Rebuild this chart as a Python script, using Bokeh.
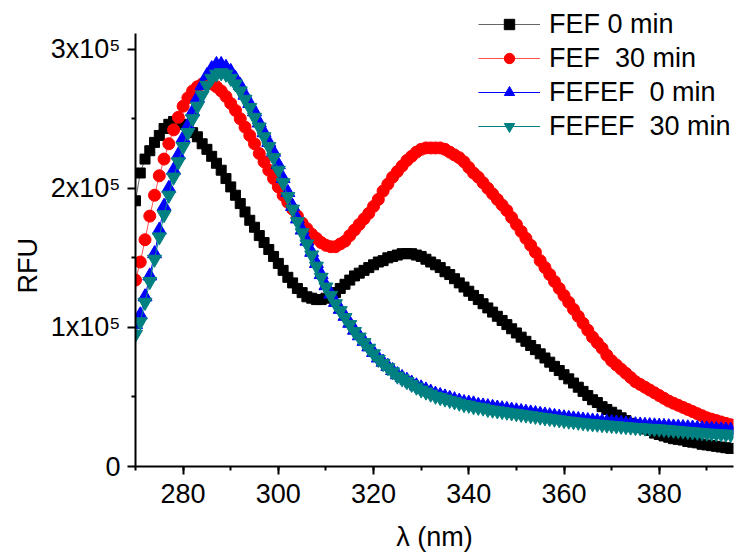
from bokeh.plotting import figure
from bokeh.models import (ColumnDataSource, Range1d, FixedTicker, Legend, LegendItem, Title)
from bokeh.embed import file_html
from bokeh.resources import INLINE

# wavelength, nm (1 nm steps)
wavelength = list(range(270, 396))

# RFU values in units of 1e5
fef_0 = [
    1.91, 2.11, 2.21, 2.27, 2.33, 2.38, 2.43, 2.46, 2.48, 2.48,
    2.46, 2.43, 2.40, 2.37, 2.32, 2.28, 2.23, 2.18, 2.13, 2.07,
    2.01, 1.95, 1.89, 1.83, 1.77, 1.72, 1.66, 1.61, 1.56, 1.51,
    1.46, 1.41, 1.36, 1.32, 1.28, 1.25, 1.22, 1.21, 1.20, 1.20,
    1.21, 1.23, 1.25, 1.28, 1.31, 1.34, 1.37, 1.39, 1.41, 1.43,
    1.45, 1.47, 1.48, 1.50, 1.51, 1.52, 1.53, 1.53, 1.53, 1.52,
    1.51, 1.49, 1.47, 1.45, 1.43, 1.40, 1.38, 1.35, 1.32, 1.29,
    1.26, 1.23, 1.20, 1.17, 1.14, 1.11, 1.08, 1.05, 1.02, 0.99,
    0.96, 0.93, 0.90, 0.87, 0.84, 0.81, 0.78, 0.75, 0.72, 0.69,
    0.66, 0.63, 0.60, 0.57, 0.54, 0.51, 0.48, 0.46, 0.43, 0.41,
    0.39, 0.37, 0.35, 0.33, 0.31, 0.30, 0.28, 0.27, 0.26, 0.24,
    0.23, 0.22, 0.21, 0.20, 0.195, 0.19, 0.18, 0.175, 0.17, 0.16,
    0.155, 0.15, 0.145, 0.14, 0.135, 0.13,
]

fef_30 = [
    1.34, 1.47, 1.63, 1.80, 1.95, 2.09, 2.21, 2.32, 2.42, 2.51,
    2.59, 2.65, 2.70, 2.73, 2.75, 2.76, 2.75, 2.73, 2.70, 2.66,
    2.61, 2.56, 2.50, 2.44, 2.38, 2.32, 2.25, 2.19, 2.13, 2.07,
    2.01, 1.95, 1.90, 1.85, 1.80, 1.75, 1.71, 1.67, 1.64, 1.61,
    1.59, 1.58, 1.58, 1.60, 1.62, 1.66, 1.70, 1.74, 1.78, 1.82,
    1.87, 1.92, 1.98, 2.03, 2.08, 2.12, 2.16, 2.20, 2.23, 2.26,
    2.28, 2.29, 2.29, 2.29, 2.29, 2.28, 2.26, 2.24, 2.22, 2.19,
    2.15, 2.11, 2.08, 2.04, 2.00, 1.96, 1.92, 1.88, 1.84, 1.79,
    1.74, 1.69, 1.64, 1.59, 1.54, 1.48, 1.43, 1.38, 1.33, 1.28,
    1.23, 1.18, 1.13, 1.08, 1.03, 0.98, 0.93, 0.89, 0.85, 0.80,
    0.76, 0.73, 0.70, 0.67, 0.64, 0.61, 0.59, 0.57, 0.55, 0.53,
    0.51, 0.49, 0.47, 0.455, 0.44, 0.425, 0.41, 0.395, 0.38, 0.365,
    0.35, 0.34, 0.33, 0.32, 0.31, 0.30,
]

fefef_0 = [
    1.02, 1.09, 1.22, 1.37, 1.53, 1.70, 1.87, 2.00, 2.13, 2.24,
    2.36, 2.45, 2.55, 2.65, 2.74, 2.81, 2.86, 2.89, 2.89, 2.87,
    2.84, 2.79, 2.74, 2.67, 2.61, 2.55, 2.47, 2.40, 2.33, 2.26,
    2.17, 2.07, 1.97, 1.87, 1.78, 1.70, 1.62, 1.54, 1.46, 1.38,
    1.30, 1.24, 1.18, 1.13, 1.08, 1.03, 0.98, 0.94, 0.90, 0.86,
    0.82, 0.78, 0.75, 0.72, 0.69, 0.66, 0.64, 0.62, 0.60, 0.58,
    0.565, 0.55, 0.535, 0.52, 0.51, 0.50, 0.49, 0.48, 0.47, 0.46,
    0.455, 0.45, 0.44, 0.435, 0.43, 0.425, 0.42, 0.415, 0.41, 0.405,
    0.40, 0.395, 0.39, 0.385, 0.38, 0.375, 0.37, 0.365, 0.36, 0.355,
    0.35, 0.346, 0.342, 0.338, 0.334, 0.33, 0.327, 0.324, 0.321, 0.318,
    0.315, 0.312, 0.309, 0.306, 0.303, 0.30, 0.298, 0.296, 0.294, 0.292,
    0.29, 0.288, 0.286, 0.284, 0.282, 0.28, 0.278, 0.276, 0.274, 0.272,
    0.27, 0.268, 0.266, 0.264, 0.262, 0.26,
]

fefef_30 = [
    0.95, 1.04, 1.18, 1.33, 1.49, 1.65, 1.81, 1.95, 2.08, 2.19,
    2.30, 2.40, 2.50, 2.59, 2.67, 2.74, 2.79, 2.82, 2.83, 2.82,
    2.79, 2.75, 2.70, 2.64, 2.58, 2.51, 2.44, 2.37, 2.30, 2.22,
    2.13, 2.04, 1.94, 1.85, 1.76, 1.68, 1.60, 1.52, 1.44, 1.36,
    1.29, 1.23, 1.17, 1.12, 1.07, 1.02, 0.97, 0.93, 0.89, 0.85,
    0.81, 0.77, 0.74, 0.71, 0.68, 0.65, 0.63, 0.61, 0.59, 0.57,
    0.55, 0.535, 0.52, 0.505, 0.495, 0.485, 0.475, 0.465, 0.455, 0.445,
    0.44, 0.43, 0.425, 0.42, 0.41, 0.405, 0.40, 0.395, 0.39, 0.385,
    0.38, 0.375, 0.37, 0.365, 0.36, 0.355, 0.35, 0.345, 0.34, 0.335,
    0.33, 0.326, 0.322, 0.318, 0.314, 0.31, 0.307, 0.304, 0.301, 0.298,
    0.295, 0.292, 0.289, 0.286, 0.283, 0.28, 0.278, 0.276, 0.274, 0.272,
    0.27, 0.267, 0.264, 0.261, 0.258, 0.255, 0.252, 0.249, 0.246, 0.243,
    0.24, 0.238, 0.236, 0.234, 0.232, 0.23,
]

labels = ["FEF 0 min", "FEF  30 min", "FEFEF  0 min", "FEFEF  30 min"]
y_ticks = [0, 100000, 200000, 300000]
y_tick_labels = ["0", "1x10\u2075", "2x10\u2075", "3x10\u2075"]
x_ticks = [280, 300, 320, 340, 360, 380]

FONT = "Liberation Sans"
FS = "27px"

p = figure(width=736, height=554, output_backend="svg", toolbar_location=None,
           x_range=Range1d(270, 395.6), y_range=Range1d(0, 335000),
           min_border_left=135, min_border_right=3, min_border_top=0,
           min_border_bottom=85)
p.outline_line_color = None
p.xgrid.visible = False
p.ygrid.visible = False

series = [
    (fef_0, "#000000", "#666666", "square", 10),
    (fef_30, "#ff0000", "#ff5050", "circle", 12),
    (fefef_0, "#0000ff", "#0000ff", "triangle", 14),
    (fefef_30, "#008080", "#008080", "inverted_triangle", 14),
]

items = []
for (vals, col, lcol, mk, sz), lab in zip(series, labels):
    src = ColumnDataSource(dict(x=wavelength, y=[v * 1e5 for v in vals]))
    lr = p.line("x", "y", source=src, line_color=lcol, line_width=1)
    sr = p.scatter("x", "y", source=src, marker=mk, size=sz,
                   fill_color=col, line_color=col)
    items.append(LegendItem(label=lab, renderers=[lr, sr]))

legend = Legend(items=items, location=(343, 323), orientation="vertical",
                glyph_width=62, glyph_height=26, label_height=34,
                label_standoff=9, spacing=0, padding=0, margin=0,
                label_text_font=FONT, label_text_font_size=FS,
                label_text_color="#000000",
                background_fill_alpha=0, border_line_alpha=0)
p.add_layout(legend, "center")

for ax in (p.xaxis[0], p.yaxis[0]):
    ax.axis_line_width = 2
    ax.axis_line_color = "#000000"
    ax.major_tick_line_width = 2
    ax.minor_tick_line_width = 2
    ax.major_tick_line_color = "#000000"
    ax.minor_tick_line_color = "#000000"
    ax.major_tick_in = 0
    ax.major_tick_out = 8
    ax.minor_tick_in = 0
    ax.minor_tick_out = 4
    ax.major_label_text_font = FONT
    ax.major_label_text_font_size = FS
    ax.major_label_text_color = "#000000"
    ax.axis_label_text_font = FONT
    ax.axis_label_text_font_size = FS
    ax.axis_label_text_font_style = "normal"
    ax.axis_label_text_color = "#000000"

p.yaxis.bounds = (0, 311400)
p.xaxis.ticker = FixedTicker(ticks=x_ticks, minor_ticks=list(range(270, 400, 10)))
p.yaxis.ticker = FixedTicker(ticks=y_ticks, minor_ticks=[50000, 150000, 250000])
p.yaxis.major_label_overrides = {t: l for t, l in zip(y_ticks, y_tick_labels)}
p.xaxis.major_label_standoff = 9
p.yaxis.major_label_standoff = 7
p.xaxis.axis_label = "\u03bb (nm)"
p.xaxis.axis_label_standoff = 16

# y-axis title, placed a little below the middle of the axis as in the reference
rfu = Title(text="RFU", align="left", offset=173, text_font=FONT,
            text_font_size=FS, text_font_style="normal", text_color="#000000")
p.add_layout(rfu, "left")

open("out.html", "w").write(file_html(p, INLINE))
